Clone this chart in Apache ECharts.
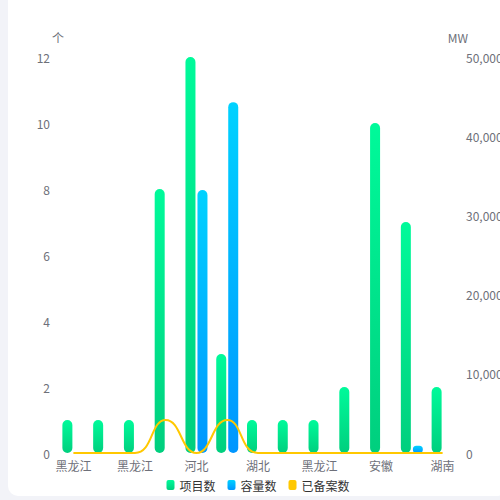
<!DOCTYPE html>
<html>
<head>
<meta charset="utf-8">
<script src="https://cdn.jsdelivr.net/npm/echarts@6/dist/echarts.min.js"></script>
<style>
  html, body { margin: 0; padding: 0; background: #f2f3f8; overflow: hidden; }
  #card { position: absolute; left: 8px; top: -10px; width: 500px; height: 506px; background: #fff; border-radius: 10px; }
  #chart { width: 500px; height: 506px; }
</style>
</head>
<body>
<div id="card"><div id="chart"></div></div>
<script>
var categories = ['黑龙江', '黑龙江', '黑龙江', '黑龙江', '河北', '河北', '湖北', '湖北', '黑龙江', '黑龙江', '安徽', '安徽', '湖南'];
var projectCounts = [1, 1, 1, 8, 12, 3, 1, 1, 1, 2, 10, 7, 2];
var capacityMW = [0, 0, 0, 0, 33200, 44300, 0, 0, 0, 0, 0, 900, 0];
var filedCounts = [0, 0, 0, 1, 0, 1, 0, 0, 0, 0, 0, 0, 0];

(function () {
  var fontStack = '"Noto Sans CJK SC", "Noto Sans", sans-serif';
  var labelColor = '#6e7079';
  var chart = echarts.init(document.getElementById('chart'), null, { renderer: 'svg' });

  function vGrad(top, bottom) {
    return new echarts.graphic.LinearGradient(0, 0, 0, 1, [
      { offset: 0, color: top },
      { offset: 1, color: bottom }
    ]);
  }

  chart.setOption({
    animation: false,
    textStyle: { fontFamily: fontStack },
    grid: { left: 50, right: 50, top: 67, bottom: 43 },
    legend: {
      bottom: 0,
      icon: 'roundRect',
      itemWidth: 8,
      itemHeight: 10,
      itemGap: 12,
      textStyle: { color: '#333', fontSize: 12, fontFamily: fontStack },
      data: ['项目数', '容量数', '已备案数']
    },
    xAxis: {
      type: 'category',
      data: categories,
      axisLine: { show: false },
      axisTick: { show: false },
      axisLabel: { color: labelColor, fontSize: 12, interval: 1, margin: 6, fontFamily: fontStack }
    },
    yAxis: [{
      type: 'value',
      name: '个',
      nameGap: 14,
      min: 0,
      max: 12,
      interval: 2,
      nameTextStyle: { color: labelColor, fontSize: 12 },
      axisLine: { show: false },
      axisTick: { show: false },
      splitLine: { show: false },
      axisLabel: { color: labelColor, fontSize: 12, margin: 8 }
    }, {
      type: 'value',
      name: 'MW',
      nameGap: 14,
      min: 0,
      max: 50000,
      interval: 10000,
      nameTextStyle: { color: labelColor, fontSize: 12 },
      axisLine: { show: false },
      axisTick: { show: false },
      splitLine: { show: false },
      axisLabel: { color: labelColor, fontSize: 12, margin: 8 }
    }],
    series: [{
      name: '项目数',
      type: 'bar',
      yAxisIndex: 0,
      data: projectCounts,
      barWidth: 10,
      barGap: '20%',
      itemStyle: { borderRadius: 5, color: vGrad('#00fa9a', '#00cf7e') }
    }, {
      name: '容量数',
      type: 'bar',
      yAxisIndex: 1,
      data: capacityMW,
      barWidth: 10,
      itemStyle: { borderRadius: 5, color: vGrad('#00d2ff', '#0096ff') }
    }, {
      name: '已备案数',
      type: 'line',
      yAxisIndex: 0,
      data: filedCounts,
      smooth: true,
      showSymbol: false,
      symbol: 'none',
      lineStyle: { color: '#ffc800', width: 2 },
      itemStyle: { color: '#ffc800' }
    }]
  });
})();
</script>
</body>
</html>
